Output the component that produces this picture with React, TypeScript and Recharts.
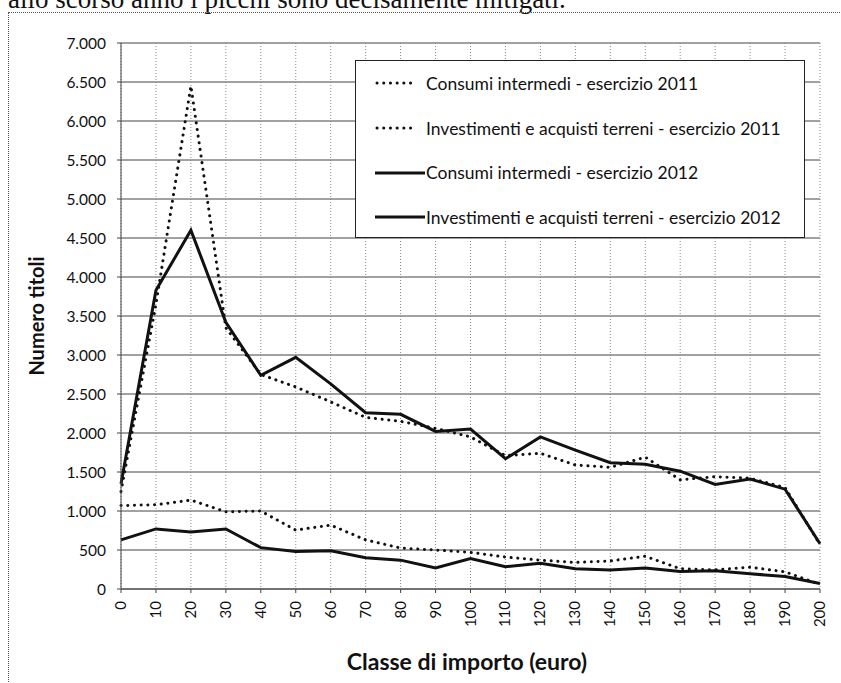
import { LineChart, Line, XAxis, YAxis, CartesianGrid, Legend, Label } from 'recharts';

const classi = [0, 10, 20, 30, 40, 50, 60, 70, 80, 90, 100, 110, 120, 130, 140, 150, 160, 170, 180, 190, 200];
const consumi2011 = [1250, 3650, 6450, 3350, 2750, 2590, 2400, 2200, 2150, 2060, 1950, 1710, 1740, 1590, 1560, 1690, 1400, 1440, 1420, 1300, 570];
const investimenti2011 = [1070, 1080, 1140, 990, 1000, 755, 820, 630, 525, 500, 470, 410, 370, 340, 360, 420, 260, 245, 280, 220, 60];
const consumi2012 = [1350, 3830, 4600, 3420, 2740, 2970, 2630, 2260, 2240, 2020, 2050, 1670, 1950, 1780, 1620, 1600, 1510, 1340, 1410, 1280, 580];
const investimenti2012 = [630, 770, 730, 770, 530, 480, 490, 400, 370, 270, 390, 285, 330, 260, 245, 270, 225, 235, 195, 160, 70];
const yTicks = [0, 500, 1000, 1500, 2000, 2500, 3000, 3500, 4000, 4500, 5000, 5500, 6000, 6500, 7000];

const legendItems = [
  { label: 'Consumi intermedi - esercizio 2011', dotted: true },
  { label: 'Investimenti e acquisti terreni - esercizio 2011', dotted: true },
  { label: 'Consumi intermedi - esercizio 2012', dotted: false },
  { label: 'Investimenti e acquisti terreni - esercizio 2012', dotted: false },
];

const data = classi.map((c, i) => ({
  classe: c,
  consumi2011: consumi2011[i],
  investimenti2011: investimenti2011[i],
  consumi2012: consumi2012[i],
  investimenti2012: investimenti2012[i],
}));

const FONT = 'Lato, "Open Sans", sans-serif';

const formatNum = (v: number) => v.toString().replace(/\B(?=(\d{3})+(?!\d))/g, '.');

function RotatedTick(props: any) {
  const { x, y, payload } = props;
  return (
    <g transform={`translate(${x},${y + 6})`}>
      <text x={0} y={0} dy={5} transform="rotate(-90)" textAnchor="end" fill="#111" fontSize={15} fontFamily={FONT}>
        {payload.value}
      </text>
    </g>
  );
}

function LegendBox() {
  return (
    <div style={{ border: '1px solid #222', background: '#fff', width: 450, height: 178, boxSizing: 'border-box', fontFamily: FONT, fontSize: 17.5, color: '#111' }}>
      {legendItems.map((it) => (
        <div key={it.label} style={{ display: 'flex', alignItems: 'center', height: 44.7, paddingLeft: 19 }}>
          <svg width={50} height={10} style={{ marginRight: 1 }}>
            {it.dotted ? (
              <line x1={2} y1={5} x2={36} y2={5} stroke="#111" strokeWidth={3} strokeDasharray="0.1 6.6" strokeLinecap="round" />
            ) : (
              <line x1={0} y1={5} x2={50} y2={5} stroke="#111" strokeWidth={3} />
            )}
          </svg>
          <span>{it.label}</span>
        </div>
      ))}
    </div>
  );
}

export default function App() {
  return (
    <div style={{ position: 'absolute', left: 0, top: 0, width: 841, height: 683, overflow: 'hidden', background: '#fff' }}>
      <div style={{ position: 'absolute', left: 8, top: -14, fontFamily: '"Liberation Serif", serif', fontSize: 27, lineHeight: '27px', color: '#111', whiteSpace: 'nowrap' }}>
        allo scorso anno i picchi sono decisamente mitigati.
      </div>
      <div style={{ position: 'absolute', left: 8, top: 12, width: 833, height: 671, borderTop: '1px dotted #555', borderLeft: '1px dotted #555' }} />
      <div style={{ position: 'absolute', left: 0, top: 0 }}>
        <LineChart width={841} height={683} data={data} margin={{ top: 43, right: 21, bottom: 44, left: 61 }}>
          <CartesianGrid vertical={false} stroke="#444" strokeWidth={1} />
          <CartesianGrid horizontal={false} stroke="#888" strokeDasharray="1 2" />
          <XAxis
            dataKey="classe"
            type="number"
            domain={[0, 200]}
            ticks={classi}
            height={50}
            tick={<RotatedTick />}
            tickSize={4}
            tickLine={{ stroke: '#444' }}
            axisLine={{ stroke: '#444' }}
            interval={0}
          >
            <Label
              content={() => (
                <text x={467} y={670} textAnchor="middle" fontFamily={FONT} fontWeight="bold" fontSize={23} fill="#111">
                  Classe di importo (euro)
                </text>
              )}
            />
          </XAxis>
          <YAxis
            domain={[0, 7000]}
            ticks={yTicks}
            width={60}
            tickFormatter={formatNum}
            tick={{ fill: '#111', fontSize: 15.5, fontFamily: FONT }}
            tickSize={4}
            tickMargin={11}
            tickLine={{ stroke: '#444' }}
            axisLine={{ stroke: '#444' }}
            interval={0}
          >
            <Label
              content={() => (
                <text x={44} y={316} transform="rotate(-90 44 316)" textAnchor="middle" fontFamily={FONT} fontWeight="bold" fontSize={20} fill="#111">
                  Numero titoli
                </text>
              )}
            />
          </YAxis>
          <Legend
            content={<LegendBox />}
            layout="horizontal"
            verticalAlign="middle"
            align="center"
            wrapperStyle={{ position: 'absolute', left: 355, top: 60, width: 450, height: 178 }}
          />
          <Line dataKey="consumi2011" name={legendItems[0].label} stroke="#111" strokeWidth={3} strokeDasharray="0.1 6.6" strokeLinecap="round" dot={false} isAnimationActive={false} />
          <Line dataKey="investimenti2011" name={legendItems[1].label} stroke="#111" strokeWidth={3} strokeDasharray="0.1 6.6" strokeLinecap="round" dot={false} isAnimationActive={false} />
          <Line dataKey="consumi2012" name={legendItems[2].label} stroke="#111" strokeWidth={3} dot={false} isAnimationActive={false} />
          <Line dataKey="investimenti2012" name={legendItems[3].label} stroke="#111" strokeWidth={3} dot={false} isAnimationActive={false} />
        </LineChart>
      </div>
    </div>
  );
}
